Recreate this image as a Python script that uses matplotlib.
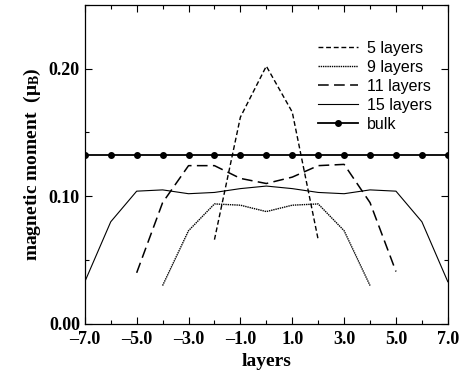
import matplotlib
matplotlib.use("Agg")
import matplotlib.pyplot as plt
from matplotlib.ticker import MultipleLocator, FuncFormatter

plt.rcParams["mathtext.fontset"] = "custom"
plt.rcParams["mathtext.rm"] = "Liberation Serif"
plt.rcParams["mathtext.bf"] = "Liberation Serif:bold"

# layer positions and moments
x5 = [-2, -1, 0, 1, 2]
m5 = [0.066, 0.162, 0.202, 0.166, 0.066]

x9 = [-4, -3, -2, -1, 0, 1, 2, 3, 4]
m9 = [0.030, 0.073, 0.094, 0.093, 0.088, 0.093, 0.094, 0.073, 0.030]

x11 = [-5, -4, -3, -2, -1, 0, 1, 2, 3, 4, 5]
m11 = [0.040, 0.095, 0.124, 0.124, 0.114, 0.110, 0.115, 0.124, 0.125, 0.095, 0.041]

x15 = list(range(-7, 8))
m15 = [0.033, 0.080, 0.104, 0.105, 0.102, 0.103, 0.106, 0.108,
       0.106, 0.103, 0.102, 0.105, 0.104, 0.080, 0.033]

x_bulk = list(range(-7, 8))
m_bulk = [0.132] * 15

xtick_vals = [-7, -5, -3, -1, 1, 3, 5, 7]

fig = plt.figure(figsize=(4.66, 3.77), dpi=100)
ax = fig.add_axes([0.182, 0.141, 0.779, 0.846])

ax.plot(x5, m5, color="black", lw=1.0, linestyle=(0, (3.5, 2)), label="5 layers")
ax.plot(x9, m9, color="black", lw=1.0, linestyle=(0, (1, 0.6)), label="9 layers")
ax.plot(x11, m11, color="black", lw=1.1, linestyle=(0, (7, 3.5)), label="11 layers")
ax.plot(x15, m15, color="black", lw=0.8, label="15 layers")
ax.plot(x_bulk, m_bulk, color="black", lw=1.3, marker="o", markersize=4, label="bulk")

ax.set_xlim(-7, 7)
ax.set_ylim(0, 0.25)
ax.set_xticks(xtick_vals)
ax.xaxis.set_major_formatter(FuncFormatter(lambda v, p: f"{v:.1f}".replace("-", "\u2013")))
ax.xaxis.set_minor_locator(MultipleLocator(1))
ax.yaxis.set_major_locator(MultipleLocator(0.10))
ax.yaxis.set_minor_locator(MultipleLocator(0.05))
ax.yaxis.set_major_formatter(FuncFormatter(lambda v, p: f"{v:.2f}"))
ax.tick_params(which="both", direction="in", top=True, right=True, width=0.8)
ax.tick_params(which="major", length=5)
ax.tick_params(which="minor", length=3)

for lab in ax.get_xticklabels() + ax.get_yticklabels():
    lab.set_fontfamily("Liberation Serif")
    lab.set_fontweight("bold")
    lab.set_fontsize(13)
ax.xaxis.set_tick_params(pad=5)

ax.set_xlabel("layers", fontfamily="Liberation Serif", fontweight="bold", fontsize=14)
ax.set_ylabel(r"magnetic moment  ($\mathbf{\mu_B}$)", fontfamily="Liberation Serif",
              fontweight="bold", fontsize=14)

ax.legend(loc="upper right", bbox_to_anchor=(1.0, 0.937), frameon=False,
          handlelength=2.5, prop={"family": "Liberation Sans", "size": 11.5},
          borderaxespad=0.6, labelspacing=0.25, handletextpad=0.55)

for s in ax.spines.values():
    s.set_linewidth(0.9)

fig.savefig("out.png", dpi=100)
